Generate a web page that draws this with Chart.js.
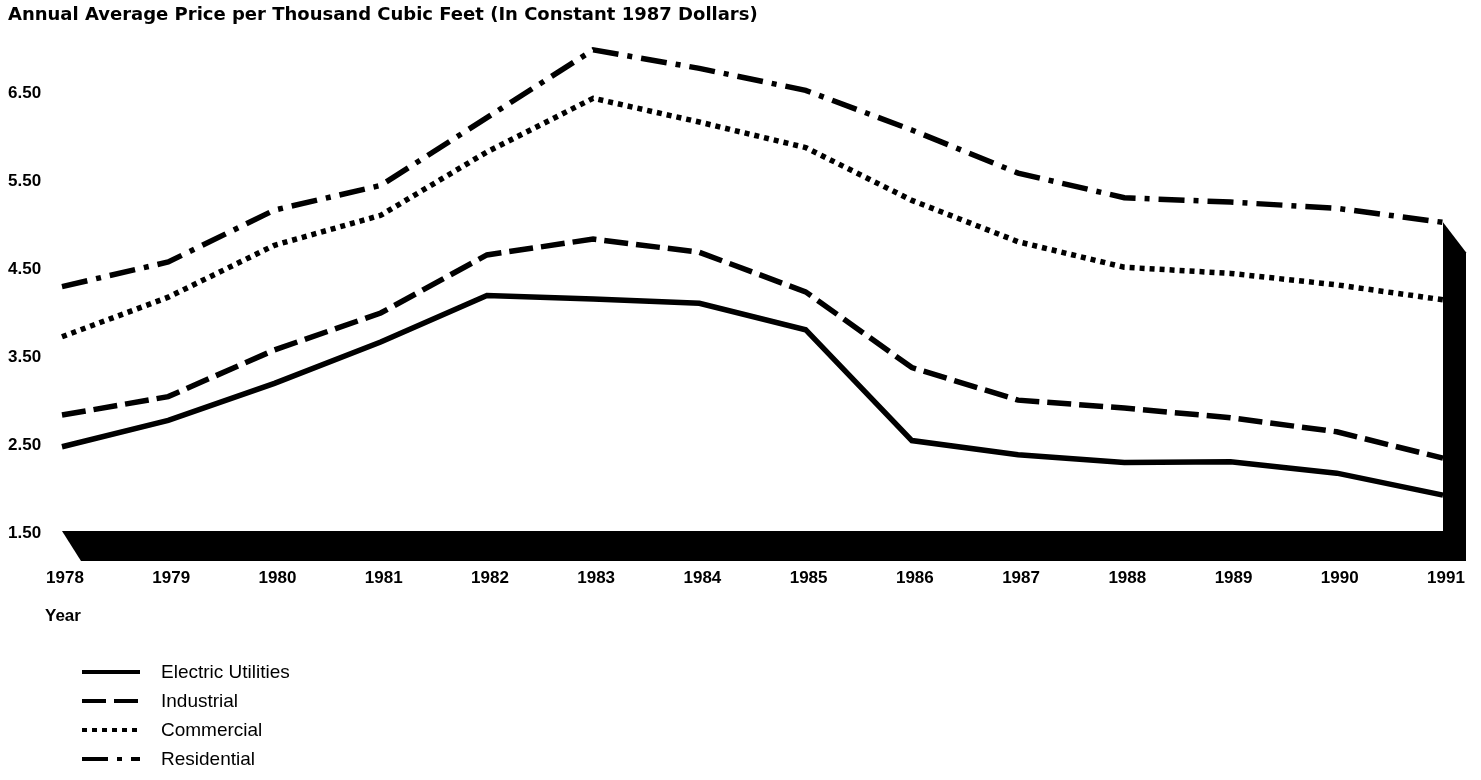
<!DOCTYPE html>
<html>
<head>
<meta charset="utf-8">
<title>Annual Average Price per Thousand Cubic Feet</title>
<script src="https://cdn.jsdelivr.net/npm/chart.js@4/dist/chart.umd.min.js"></script>
<style>
  html, body { margin: 0; padding: 0; background: #ffffff; }
  #wrap { position: relative; width: 1481px; height: 780px; }
</style>
</head>
<body>
<div id="wrap"><canvas id="chart" width="1481" height="780"></canvas></div>
<script>
// Price per thousand cubic feet, constant 1987 dollars
const years = ['1978', '1979', '1980', '1981', '1982', '1983', '1984',
               '1985', '1986', '1987', '1988', '1989', '1990', '1991'];
const electricUtilities = [2.48, 2.78, 3.20, 3.67, 4.20, 4.16, 4.11, 3.81, 2.55, 2.39, 2.30, 2.31, 2.18, 1.93];
const industrial        = [2.84, 3.05, 3.58, 4.00, 4.66, 4.84, 4.69, 4.24, 3.38, 3.01, 2.92, 2.81, 2.65, 2.35];
const commercial        = [3.73, 4.18, 4.77, 5.11, 5.83, 6.44, 6.17, 5.88, 5.28, 4.81, 4.52, 4.45, 4.32, 4.15];
const residential       = [4.30, 4.58, 5.17, 5.45, 6.22, 6.99, 6.78, 6.53, 6.08, 5.59, 5.31, 5.26, 5.19, 5.03];
const yTickValues = [1.5, 2.5, 3.5, 4.5, 5.5, 6.5];

const FONT = '"Liberation Sans", Arial, Helvetica, sans-serif';
const TITLE_FONT = '"DejaVu Sans", "Liberation Sans", Arial, sans-serif';

// Solid black floor and right wall giving the plot a raised, boxed look
const boxPlugin = {
  id: 'box3d',
  afterDatasetsDraw(chart) {
    const { ctx, chartArea, scales } = chart;
    const y = scales.y;
    const dx = 23, dy = 28;
    const floorTop = y.getPixelForValue(y.min);
    const left = chartArea.left, right = chartArea.right;
    const lastVals = chart.data.datasets.map(d => d.data[d.data.length - 1]);
    const wallTop = y.getPixelForValue(Math.max(...lastVals));
    ctx.save();
    ctx.fillStyle = '#000';
    // floor
    ctx.beginPath();
    ctx.moveTo(left, floorTop - 2);
    ctx.lineTo(right, floorTop - 2);
    ctx.lineTo(right + dx, floorTop + dy);
    ctx.lineTo(left + dx - 4, floorTop + dy);
    ctx.closePath();
    ctx.fill();
    // right wall
    ctx.beginPath();
    ctx.moveTo(right, wallTop);
    ctx.lineTo(right + dx, wallTop + dy + 2);
    ctx.lineTo(right + dx, floorTop + dy);
    ctx.lineTo(right, floorTop + dy);
    ctx.closePath();
    ctx.fill();
    ctx.restore();
  }
};

// Axis caption and the stacked key below the chart
const keyPlugin = {
  id: 'stackedKey',
  afterDraw(chart) {
    const { ctx } = chart;
    ctx.save();
    ctx.fillStyle = '#000';
    ctx.textBaseline = 'middle';
    ctx.textAlign = 'left';
    ctx.font = 'bold 17px ' + FONT;
    ctx.fillText('Year', 45, 616);

    const x0 = 82, x1 = 140, textX = 161;
    const rowY = [672, 701, 730, 759];
    ctx.font = '19px ' + FONT;
    chart.data.datasets.forEach((ds, i) => {
      const yy = rowY[i];
      ctx.beginPath();
      ctx.setLineDash(ds.borderDash || []);
      ctx.lineWidth = 4;
      ctx.lineCap = 'butt';
      ctx.strokeStyle = ds.borderColor;
      ctx.moveTo(x0, yy);
      ctx.lineTo(x1, yy);
      ctx.stroke();
      ctx.setLineDash([]);
      ctx.fillText(ds.label, textX, yy + 1);
    });
    ctx.restore();
  }
};

const lineStyle = {
  borderColor: '#000',
  backgroundColor: '#000',
  borderWidth: 5.5,
  borderCapStyle: 'butt',
  borderJoinStyle: 'miter',
  pointRadius: 0,
  pointHoverRadius: 0,
  tension: 0,
  fill: false,
  clip: false
};

new Chart(document.getElementById('chart'), {
  type: 'line',
  data: {
    labels: years,
    datasets: [
      Object.assign({ label: 'Electric Utilities', data: electricUtilities, borderDash: [] }, lineStyle),
      Object.assign({ label: 'Industrial', data: industrial, borderDash: [24, 8] }, lineStyle),
      Object.assign({ label: 'Commercial', data: commercial, borderDash: [5, 5] }, lineStyle),
      Object.assign({ label: 'Residential', data: residential, borderDash: [26, 9, 5, 9] }, lineStyle)
    ]
  },
  options: {
    responsive: false,
    animation: false,
    devicePixelRatio: 1,
    layout: { padding: { left: 8, right: 38, top: 0, bottom: 0 } },
    plugins: {
      legend: { display: false },
      tooltip: { enabled: false },
      title: {
        display: true,
        text: 'Annual Average Price per Thousand Cubic Feet (In Constant 1987 Dollars)',
        align: 'start',
        color: '#000',
        font: { family: TITLE_FONT, size: 18, weight: 'bold', lineHeight: 1.2 },
        padding: { top: 5, bottom: 22.4 }
      }
    },
    scales: {
      x: {
        type: 'category',
        offset: false,
        grid: { display: false, drawTicks: false },
        border: { display: false },
        ticks: {
          color: '#000',
          font: { family: FONT, size: 17, weight: 'bold' },
          maxRotation: 0,
          autoSkip: false,
          padding: 35,
          labelOffset: 3
        },
        afterFit(scale) {
          scale.height = 247;
          scale.paddingLeft = 0;
          scale.paddingRight = 0;
        }
      },
      y: {
        min: 1.5,
        max: 7.0,
        grid: { display: false, drawTicks: false },
        border: { display: false },
        afterBuildTicks(scale) { scale.ticks = yTickValues.map(v => ({ value: v })); },
        afterFit(scale) { scale.width = 54; },
        ticks: {
          color: '#000',
          crossAlign: 'far',
          font: { family: FONT, size: 17, weight: 'bold' },
          callback: v => Number(v).toFixed(2)
        }
      }
    }
  },
  plugins: [boxPlugin, keyPlugin]
});
</script>
</body>
</html>
